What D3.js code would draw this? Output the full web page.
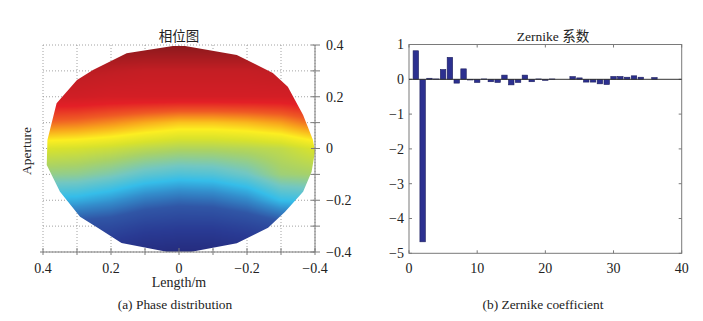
<!DOCTYPE html>
<html>
<head>
<meta charset="utf-8">
<script src="https://cdn.jsdelivr.net/npm/d3@7"></script>
<style>
  body { margin: 0; background: #fff; }
  text { font-family: "Liberation Serif", "DejaVu Serif", serif; fill: #222; }
  .cjk { font-family: "Noto Sans CJK SC", sans-serif; }
</style>
</head>
<body>
<script>
// ---- data ----

// phase map : grid of colour levels (0 = deepest blue, 1 = deepest red)
const phaseX = [0.4, 0.3, 0.2, 0.1, 0, -0.1, -0.2, -0.3, -0.4];
const phaseY = [0.4, 0.3, 0.2, 0.1, 0, -0.1, -0.2, -0.3, -0.4];
const phaseRow0 = [1.00, 1.00, 1.00, 1.00, 1.00, 1.00, 1.00, 1.00, 1.00];
const phaseRow1 = [0.92, 0.92, 0.91, 0.90, 0.90, 0.90, 0.90, 0.91, 0.92];
const phaseRow2 = [0.87, 0.87, 0.86, 0.86, 0.86, 0.86, 0.86, 0.86, 0.87];
const phaseRow3 = [0.74, 0.73, 0.71, 0.685, 0.665, 0.665, 0.675, 0.695, 0.74];
const phaseRow4 = [0.584, 0.577, 0.564, 0.544, 0.53, 0.53, 0.537, 0.55, 0.584];
const phaseRow5 = [0.494, 0.488, 0.464, 0.428, 0.41, 0.416, 0.446, 0.506, 0.518];
const phaseRow6 = [0.368, 0.361, 0.333, 0.291, 0.27, 0.277, 0.312, 0.382, 0.396];
const phaseRow7 = [0.205, 0.205, 0.192, 0.153, 0.14, 0.14, 0.166, 0.205, 0.218];
const phaseRow8 = [0.08, 0.08, 0.068, 0.032, 0.02, 0.02, 0.044, 0.08, 0.092];
const phaseGrid = [phaseRow0, phaseRow1, phaseRow2, phaseRow3, phaseRow4, phaseRow5, phaseRow6, phaseRow7, phaseRow8];

// edge of the aperture (polygon, data units)
const apertureX = [0.387, 0.36, 0.30, 0.253, 0.154, 0.018, -0.018, -0.17, -0.276, -0.32, -0.365, -0.394, -0.4,
                   -0.39, -0.365, -0.312, -0.262, -0.17, -0.037, 0.036, 0.169, 0.238, 0.291, 0.35, 0.389];
const apertureY = [0.033, 0.175, 0.265, 0.303, 0.368, 0.396, 0.396, 0.361, 0.292, 0.239, 0.129, 0.033, -0.012,
                   -0.09, -0.167, -0.244, -0.306, -0.366, -0.399, -0.399, -0.365, -0.307, -0.264, -0.167, -0.064];

// jet-like colour map as printed
const cmapStops = [0, 0.12, 0.24, 0.32, 0.38, 0.45, 0.52, 0.58, 0.63, 0.69, 0.75, 0.82, 0.90, 1];
const cmapColors = ["#24297a", "#293a93", "#3056a6", "#338ccb", "#35bde9", "#72c7c2", "#a9d266",
                    "#d8e22c", "#fcee21", "#f8a51c", "#ef5a24", "#e31f26", "#c41e24", "#8a191c"];

const lenTicks = [0.4, 0.3, 0.2, 0.1, 0, -0.1, -0.2, -0.3, -0.4];
const lenLabels = [0.4, 0.2, 0, -0.2, -0.4];

// Zernike coefficients
const zernikeIndex = d3.range(1, 37);
const zernikeCoef = [0.82, -4.67, 0.03, 0.01, 0.28, 0.63, -0.11, 0.30, -0.02, -0.09,
                     0.01, -0.07, -0.09, 0.12, -0.16, -0.09, 0.12, -0.07, 0.01, -0.03,
                     0.01, 0, 0, 0.077, 0.04, -0.08, -0.08, -0.13, -0.15, 0.08,
                     0.08, 0.06, 0.10, 0.06, 0, 0.05];
const coefXTicks = [0, 10, 20, 30, 40];
const coefYTicks = [1, 0, -1, -2, -3, -4, -5];

const axisGray = "#7a7a7a";
const fmt = v => (v < 0 ? "\u2212" : "") + Math.abs(v);

const svg = d3.select("body").append("svg").attr("width", 703).attr("height", 321);

// ================= (a) phase distribution =================
const xA = d3.scaleLinear().domain([0.4, -0.4]).range([43, 315]);
const yA = d3.scaleLinear().domain([0.4, -0.4]).range([45, 252]);
const gA = svg.append("g");

// dotted grid
gA.selectAll(".gx").data(lenTicks).enter().append("line")
    .attr("x1", d => xA(d)).attr("x2", d => xA(d)).attr("y1", yA(0.4)).attr("y2", yA(-0.4))
    .attr("stroke", "#8c8c8c").attr("stroke-width", 0.8).attr("stroke-dasharray", "1,2");
gA.selectAll(".gy").data(lenTicks).enter().append("line")
    .attr("y1", d => yA(d)).attr("y2", d => yA(d)).attr("x1", xA(0.4)).attr("x2", xA(-0.4))
    .attr("stroke", "#8c8c8c").attr("stroke-width", 0.8).attr("stroke-dasharray", "1,2");

// paint the phase field on a canvas, then clip it with the aperture
const pw = Math.round(xA(-0.4) - xA(0.4)), ph = Math.round(yA(-0.4) - yA(0.4));
const canvas = document.createElement("canvas");
canvas.width = pw; canvas.height = ph;
const ctx = canvas.getContext("2d");
const img = ctx.createImageData(pw, ph);
const cmap = d3.scaleLinear().domain(cmapStops).range(cmapColors).interpolate(d3.interpolateRgb).clamp(true);
const colIdx = d3.scaleLinear().domain([phaseX[0], phaseX[phaseX.length - 1]]).range([0, phaseX.length - 1]).clamp(true);
const rowIdx = d3.scaleLinear().domain([phaseY[0], phaseY[phaseY.length - 1]]).range([0, phaseY.length - 1]).clamp(true);

function phaseAt(x, y) {
    const c = colIdx(x), r = rowIdx(y);
    const c0 = Math.min(Math.floor(c), phaseX.length - 2), r0 = Math.min(Math.floor(r), phaseY.length - 2);
    const fc = c - c0, fr = r - r0;
    const top = phaseGrid[r0][c0] * (1 - fc) + phaseGrid[r0][c0 + 1] * fc;
    const bot = phaseGrid[r0 + 1][c0] * (1 - fc) + phaseGrid[r0 + 1][c0 + 1] * fc;
    return top * (1 - fr) + bot * fr;
}

for (let j = 0; j < ph; j++) {
    for (let i = 0; i < pw; i++) {
        const v = phaseAt(xA.invert(xA(0.4) + i + 0.5), yA.invert(yA(0.4) + j + 0.5));
        const col = d3.rgb(cmap(v));
        const k = (j * pw + i) * 4;
        img.data[k] = col.r; img.data[k + 1] = col.g; img.data[k + 2] = col.b; img.data[k + 3] = 255;
    }
}
ctx.putImageData(img, 0, 0);

const aperture = apertureX.map((d, i) => [xA(d), yA(apertureY[i])]);
svg.append("defs").append("clipPath").attr("id", "apClip")
    .append("path").attr("d", d3.line()(aperture) + "Z");

gA.append("image")
    .attr("x", xA(0.4)).attr("y", yA(0.4)).attr("width", pw).attr("height", ph)
    .attr("preserveAspectRatio", "none")
    .attr("href", canvas.toDataURL())
    .attr("clip-path", "url(#apClip)");

// bottom axis and right axis, ticks crossing the line
gA.append("line").attr("x1", xA(0.4) - 3).attr("x2", xA(-0.4)).attr("y1", yA(-0.4)).attr("y2", yA(-0.4))
    .attr("stroke", axisGray);
gA.selectAll(".tx").data(lenTicks).enter().append("line")
    .attr("x1", d => xA(d)).attr("x2", d => xA(d)).attr("y1", yA(-0.4) - 4).attr("y2", yA(-0.4) + 3)
    .attr("stroke", axisGray);
gA.append("line").attr("x1", xA(-0.4)).attr("x2", xA(-0.4)).attr("y1", yA(0.4)).attr("y2", yA(-0.4))
    .attr("stroke", axisGray);
gA.selectAll(".ty").data(lenTicks).enter().append("line")
    .attr("y1", d => yA(d)).attr("y2", d => yA(d)).attr("x1", xA(-0.4) - 4).attr("x2", xA(-0.4) + 5)
    .attr("stroke", axisGray);

gA.selectAll(".lx").data(lenLabels).enter().append("text")
    .attr("x", d => xA(d)).attr("y", 273).attr("text-anchor", "middle").attr("font-size", 14)
    .text(fmt);
gA.selectAll(".ly").data(lenLabels).enter().append("text")
    .attr("x", xA(-0.4) + 11).attr("y", d => yA(d)).attr("dy", "0.35em").attr("font-size", 14)
    .text(fmt);

gA.append("text").attr("class", "cjk").attr("x", 179).attr("y", 41)
    .attr("text-anchor", "middle").attr("font-size", 13.5).text("相位图");
gA.append("text").attr("x", 179).attr("y", 287).attr("text-anchor", "middle").attr("font-size", 14).text("Length/m");
gA.append("text").attr("transform", "translate(31,151) rotate(-90)")
    .attr("text-anchor", "middle").attr("font-size", 13.5).text("Aperture");
gA.append("text").attr("x", 175).attr("y", 309).attr("text-anchor", "middle").attr("font-size", 13.4)
    .text("(a) Phase distribution");

// ================= (b) Zernike coefficient =================
const xB = d3.scaleLinear().domain([0, 40]).range([409, 681.7]);
const yB = d3.scaleLinear().domain([1, -5]).range([44.5, 253.3]);
const gB = svg.append("g");

gB.append("rect").attr("x", xB(0)).attr("y", yB(1)).attr("width", xB(40) - xB(0)).attr("height", yB(-5) - yB(1))
    .attr("fill", "none").attr("stroke", axisGray).attr("stroke-width", 1);

// inward ticks on all four sides
gB.selectAll(".tb").data(coefXTicks).enter().append("line")
    .attr("x1", d => xB(d)).attr("x2", d => xB(d)).attr("y1", yB(-5)).attr("y2", yB(-5) - 3)
    .attr("stroke", axisGray);
gB.selectAll(".tt").data(coefXTicks).enter().append("line")
    .attr("x1", d => xB(d)).attr("x2", d => xB(d)).attr("y1", yB(1)).attr("y2", yB(1) + 3)
    .attr("stroke", axisGray);
gB.selectAll(".tl").data(coefYTicks).enter().append("line")
    .attr("y1", d => yB(d)).attr("y2", d => yB(d)).attr("x1", xB(0)).attr("x2", xB(0) + 3)
    .attr("stroke", axisGray);
gB.selectAll(".tr").data(coefYTicks).enter().append("line")
    .attr("y1", d => yB(d)).attr("y2", d => yB(d)).attr("x1", xB(40)).attr("x2", xB(40) - 3)
    .attr("stroke", axisGray);

// bars
const bw = xB(0.8) - xB(0);
gB.selectAll(".bar").data(zernikeCoef).enter().append("rect")
    .attr("x", (d, i) => xB(zernikeIndex[i]) - bw / 2)
    .attr("y", d => yB(Math.max(0, d)))
    .attr("width", bw)
    .attr("height", d => Math.abs(yB(d) - yB(0)))
    .attr("fill", "#2c3090").attr("stroke", "#1b1d5c").attr("stroke-width", 0.6);

// baseline
gB.append("line").attr("x1", xB(0)).attr("x2", xB(40)).attr("y1", yB(0)).attr("y2", yB(0))
    .attr("stroke", "#333").attr("stroke-width", 1);

gB.selectAll(".lxb").data(coefXTicks).enter().append("text")
    .attr("x", d => xB(d)).attr("y", 273).attr("text-anchor", "middle").attr("font-size", 14)
    .text(d => d);
gB.selectAll(".lyb").data(coefYTicks).enter().append("text")
    .attr("x", xB(0) - 5).attr("y", d => yB(d)).attr("dy", "0.35em").attr("text-anchor", "end").attr("font-size", 14)
    .text(fmt);

gB.append("text").attr("x", 553).attr("y", 41).attr("text-anchor", "middle").attr("font-size", 13.5)
    .call(t => t.append("tspan").text("Zernike "))
    .call(t => t.append("tspan").attr("class", "cjk").text("系数"));
gB.append("text").attr("x", 543).attr("y", 309).attr("text-anchor", "middle").attr("font-size", 13.4)
    .text("(b) Zernike coefficient");
</script>
</body>
</html>
